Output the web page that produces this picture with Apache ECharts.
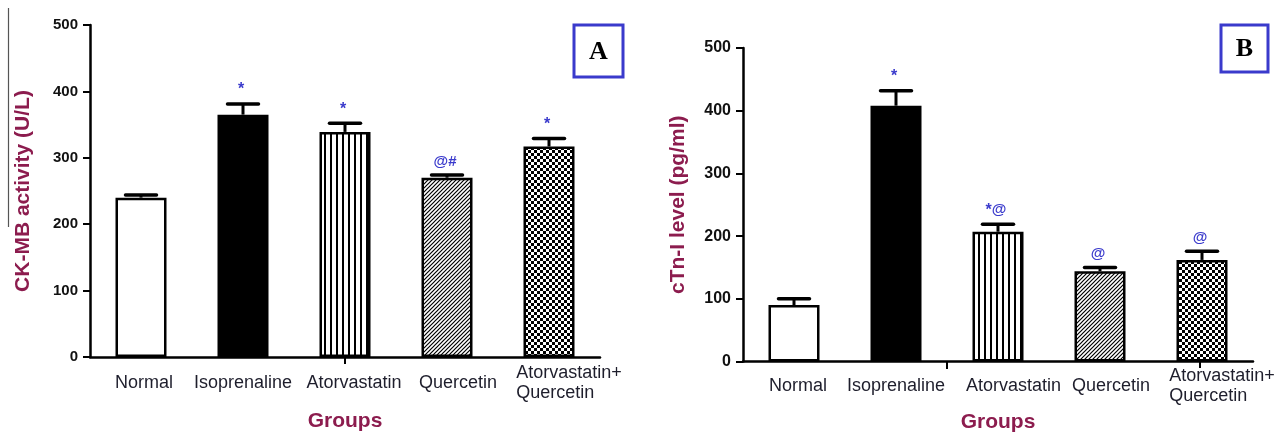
<!DOCTYPE html>
<html><head><meta charset="utf-8">
<script src="https://cdn.jsdelivr.net/npm/echarts@6/dist/echarts.min.js"></script>
<style>html,body{margin:0;padding:0;background:#fff}#c{width:1277px;height:433px}</style>
</head><body><div id="c"></div>
<script>
// ---- data ----
const groups = ['Normal', 'Isoprenaline', 'Atorvastatin', 'Quercetin', 'Atorvastatin+\nQuercetin'];
const ckmbValues = [240, 365, 339, 270, 317];
const ckmbErrors = [4, 16, 13, 4, 12];
const ckmbMarks = ['', '*', '*', '@#', '*'];
const ctniValues = [90, 408, 207, 144, 162];
const ctniErrors = [10, 24, 12, 6, 14];
const ctniMarks = ['', '*', '*@', '@', '@'];
const yMin = 0, yMax = 500, yStep = 100;
const titleA = 'CK-MB activity (U/L)';
const titleB = 'cTn-I level (pg/ml)';
const xTitle = 'Groups';
const panelLabels = ['A', 'B'];

// ---- styles ----
const FONT = '"Liberation Sans", Arial, sans-serif';
const MAROON = '#8c1c4e';
const BLUE = '#3a3acc';

function pattern(kind) {
  const c = document.createElement('canvas');
  const g = c.getContext('2d');
  if (kind === 'v') {
    c.width = 6; c.height = 6;
    g.fillStyle = '#fff'; g.fillRect(0, 0, 6, 6);
    g.fillStyle = '#000'; g.fillRect(0, 0, 2, 6);
  } else if (kind === 'd') {
    c.width = 4; c.height = 4;
    g.fillStyle = '#fff'; g.fillRect(0, 0, 4, 4);
    g.strokeStyle = '#000'; g.lineWidth = 1.2;
    g.beginPath();
    g.moveTo(-1, 5); g.lineTo(5, -1);
    g.moveTo(-1, 1); g.lineTo(1, -1);
    g.moveTo(3, 5); g.lineTo(5, 3);
    g.stroke();
  } else {
    c.width = 6; c.height = 6;
    g.fillStyle = '#fff'; g.fillRect(0, 0, 6, 6);
    g.fillStyle = '#000'; g.fillRect(0, 0, 3, 3); g.fillRect(3, 3, 3, 3);
  }
  return { image: c, repeat: 'repeat' };
}
const fills = ['#ffffff', '#000000', pattern('v'), pattern('d'), pattern('c')];

function labelRich(pads, size) {
  const rich = {};
  const base = { fontSize: size, fontFamily: FONT, color: '#1e1e2c', lineHeight: 20, align: 'left' };
  pads.forEach((p, i) => {
    rich['p' + i] = Object.assign({}, base, { padding: [0, 0, 0, p] });
  });
  return rich;
}
function labelFmt(val, idx) {
  return String(val).split('\n').map(l => '{p' + idx + '|' + l + '}').join('\n');
}
function markText(s) {
  let out = '';
  for (const ch of s) out += ch === '*' ? '{s|*}' : '{a|' + ch + '}';
  return out;
}

function makeErrSeries(axisIdx, values, errors, marks) {
  return {
    type: 'custom', xAxisIndex: axisIdx, yAxisIndex: axisIdx, z: 5,
    data: values.map((v, i) => [i, v, errors[i]]),
    encode: { x: 0, y: 1 },
    renderItem: function (params, api) {
      const i = api.value(0), v = api.value(1), e = api.value(2);
      const top = api.coord([i, v]);
      const cap = api.coord([i, v + e]);
      const half = 15.5;
      const m = marks[params.dataIndex];
      const children = [
        { type: 'line', shape: { x1: top[0], y1: top[1], x2: cap[0], y2: cap[1] }, style: { stroke: '#000', lineWidth: 3 } },
        { type: 'line', shape: { x1: cap[0] - half, y1: cap[1], x2: cap[0] + half, y2: cap[1] }, style: { stroke: '#000', lineWidth: 3.5, lineCap: 'round' } }
      ];
      if (m) {
        children.push({
          type: 'text', x: cap[0] - 2, y: cap[1] - 6,
          style: {
            text: markText(m), align: 'center', verticalAlign: 'bottom',
            rich: {
              s: { fontSize: 16, fontWeight: 'bold', fontFamily: FONT, fill: BLUE },
              a: { fontSize: 15, fontWeight: 'bold', fontFamily: FONT, fill: BLUE }
            }
          }
        });
      }
      return { type: 'group', children: children };
    }
  };
}

function makeBar(axisIdx, values) {
  return {
    type: 'bar', xAxisIndex: axisIdx, yAxisIndex: axisIdx, barWidth: '50%', z: 3,
    data: values.map((v, i) => ({ value: v, itemStyle: { color: fills[i] } })),
    itemStyle: { borderColor: '#000', borderWidth: 2.5 },
    emphasis: { disabled: true }
  };
}

function xAxisCfg(gridIdx, pads, margin, gap) {
  return {
    type: 'category', gridIndex: gridIdx, data: groups,
    axisLine: { lineStyle: { color: '#000', width: 2.5 } },
    axisTick: { show: false },
    axisLabel: { interval: 0, margin: margin, verticalAlign: 'middle', lineHeight: 20, formatter: labelFmt, rich: labelRich(pads, 18) },
    name: xTitle, nameLocation: 'middle', nameGap: gap,
    nameTextStyle: { fontSize: 21, fontWeight: 'bold', color: MAROON, fontFamily: FONT }
  };
}
function yAxisCfg(gridIdx, name, gap, size) {
  return {
    type: 'value', gridIndex: gridIdx, min: yMin, max: yMax, interval: yStep,
    splitLine: { show: false },
    axisLine: { show: true, lineStyle: { color: '#000', width: 2.5 } },
    axisTick: { show: true, length: 7, lineStyle: { color: '#000', width: 2 } },
    axisLabel: { margin: 12, fontSize: size, fontWeight: 'bold', fontFamily: FONT, color: '#111' },
    name: name, nameLocation: 'middle', nameGap: gap,
    nameTextStyle: { fontSize: 21, fontWeight: 'bold', color: MAROON, fontFamily: FONT }
  };
}

function box(x, y, w, h, letter) {
  return [
    { type: 'rect', shape: { x: x, y: y, width: w, height: h }, style: { fill: '#fff', stroke: BLUE, lineWidth: 3 } },
    { type: 'text', x: x + w / 2, y: y + h / 2 + 1, style: { text: letter, font: 'bold 26px "Liberation Serif", "Times New Roman", serif', fill: '#000', align: 'center', verticalAlign: 'middle' } }
  ];
}

const chart = echarts.init(document.getElementById('c'), null, { renderer: 'canvas' });
chart.setOption({
  animation: false,
  backgroundColor: '#fff',
  grid: [
    { left: 90, right: 677, top: 25, bottom: 76, containLabel: false, outerBoundsMode: 'none' },
    { left: 743, right: 24, top: 48, bottom: 71.5, containLabel: false, outerBoundsMode: 'none' }
  ],
  xAxis: [xAxisCfg(0, [6, 0, 18, 22, 40], 26, 54), xAxisCfg(1, [8, 0, 31, 22, 40], 25, 50)],
  yAxis: [yAxisCfg(0, titleA, 56, 15), yAxisCfg(1, titleB, 54, 16)],
  series: [
    makeBar(0, ckmbValues), makeErrSeries(0, ckmbValues, ckmbErrors, ckmbMarks),
    makeBar(1, ctniValues), makeErrSeries(1, ctniValues, ctniErrors, ctniMarks)
  ],
  graphic: [].concat(
    box(574, 25, 49, 52, panelLabels[0]),
    box(1221, 25, 47, 47, panelLabels[1]),
    [
      { type: 'line', shape: { x1: 8.5, y1: 8, x2: 8.5, y2: 227 }, style: { stroke: '#555', lineWidth: 1.2 } },
      { type: 'line', shape: { x1: 345, y1: 357, x2: 345, y2: 364 }, style: { stroke: '#000', lineWidth: 2 } },
      { type: 'line', shape: { x1: 947, y1: 362, x2: 947, y2: 369 }, style: { stroke: '#000', lineWidth: 2 } },
      { type: 'line', shape: { x1: 1200, y1: 362, x2: 1200, y2: 368 }, style: { stroke: '#000', lineWidth: 2 } }
    ]
  )
});
</script>
</body></html>
